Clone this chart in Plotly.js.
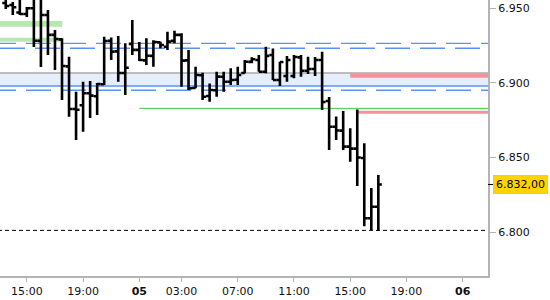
<!DOCTYPE html>
<html><head><meta charset="utf-8">
<script src="https://cdn.plot.ly/plotly-3.0.1.min.js"></script>
<style>html,body{margin:0;padding:0;background:#fff}#chart{width:550px;height:300px}</style>
</head><body><div id="chart"></div>
<script>
// 30-minute bars (day hh:mm)
const times = ["4 13:30","4 14:00","4 14:30","4 15:00","4 15:30","4 16:00","4 16:30","4 17:00","4 17:30","4 18:00",
"4 18:30","4 19:00","4 19:30","4 20:00","4 20:30","4 21:00","4 21:30","4 22:00","4 22:30",
"5 00:00","5 00:30","5 01:00","5 01:30","5 02:00","5 02:30","5 03:00","5 03:30","5 04:00","5 04:30",
"5 05:00","5 05:30","5 06:00","5 06:30","5 07:00","5 07:30","5 08:00","5 08:30","5 09:00","5 09:30",
"5 10:00","5 10:30","5 11:00","5 11:30","5 12:00","5 12:30","5 13:00","5 13:30","5 14:00","5 14:30",
"5 15:00","5 15:30","5 16:00","5 16:30","5 17:00"];
const futureSlots = ["5 17:30","5 18:00","5 18:30","5 19:00","5 19:30","5 20:00","5 20:30","5 21:00",
"5 21:30","5 22:00","5 22:30","6 00:00","6 00:30","6 01:00","6 01:30","6 02:00"];
const openV  = [6953.3,6952,6947,6946,6949.8,6928,6945.3,6932,6929,6911,6882.5,6885,6893,6891,6899,6928,6921,6906.5,6926,6922,
6915,6918,6927,6924.1,6928,6932,6915,6896.5,6905,6891.2,6895,6904,6900.7,6902,6906.5,6914,6915.2,6907.4,6918.6,6901.9,
6904.5,6904.5,6917,6908,6909.2,6915.2,6887.8,6870.6,6868,6857.3,6856,6849.7,6809.4,6817.1];
const highV  = [6955.5,6954,6955.5,6950.7,6958,6957,6948.7,6935.3,6929.7,6917.4,6894,6900.7,6901.2,6899.8,6930.8,6930.3,6931.3,6926.4,6942,6927.3,
6929.7,6928.4,6927.5,6934.2,6934.8,6933.1,6921.9,6910.7,6906.7,6899.6,6907.4,6907.4,6909.7,6910.7,6915.2,6917,6918.6,6924.1,6923,6914.1,
6917.9,6918.6,6918.6,6917.4,6917.2,6920.8,6890.5,6877.4,6881.1,6869.6,6882.1,6859.5,6829.6,6838.3];
const lowV   = [6949.3,6945.3,6945.3,6944,6923.9,6910.5,6918.6,6908.5,6888.5,6877.3,6861.7,6867.3,6876.4,6878.4,6898.5,6915.2,6900.7,6891.8,6918.6,6914.6,
6911.9,6910.7,6923.1,6921.9,6926.4,6897.4,6895.2,6896.3,6888.5,6887.3,6890.7,6894,6898.5,6898.5,6906.3,6913,6907.4,6906.3,6901.9,6897.8,
6900.7,6903,6904.1,6905.9,6904.5,6881.8,6855,6861.7,6855,6847.2,6831,6804,6801.5,6801];
const closeV = [6951.3,6950.5,6946,6949.8,6928.1,6945.3,6932,6929.3,6911.2,6882.5,6882,6893,6891.4,6899.2,6927.9,6920.8,6906.5,6910,6922,6915.2,
6918.1,6927.3,6925.3,6927.5,6932,6914.8,6896.3,6905.2,6890.7,6895.2,6904.1,6900.7,6901.9,6905.2,6914.1,6915.7,6907.4,6918,6901.9,6913.9,
6915.2,6917.2,6908,6909.2,6915.2,6887.1,6870.6,6868.1,6857.3,6856,6850,6809.4,6817.1,6832];
const tickSlots = ["4 15:00","4 19:00","5 00:00","5 03:00","5 07:00","5 11:00","5 15:00","5 19:00","6 00:00"];
const tickText  = ["15:00","19:00","<b>05</b>","03:00","07:00","11:00","15:00","19:00","<b>06</b>"];
const yTicks = [6800,6850,6900,6950];
const lastPrice = 6832;
// reference levels
const zoneTop = 6906.5, zoneBottom = 6897.8;
const blueDashA = [6926.4, 6895.0];
const blueDashB = [6923.1];
const greenLine = {from:"5 00:00", level:6882.9};
const greenZones = [[6941.3,6937.5],[6930.1,6927.5]];
const greenZoneEnd = "4 17:30";
const redZones = [{from:"5 15:00", top:6906.3, bottom:6903.4},{from:"5 15:30", top:6881.3, bottom:6879.3}];
const sessionLow = 6801.3;

const slots = times.concat(futureSlots);
const pos = t => slots.indexOf(t);
const xs = times.map(pos);
const XMIN = -0.82, XMAX = 68.6, XFAR = 75, XLEFT = -2.1;

const shapes = [];
shapes.push({type:'rect',xref:'x',yref:'y',x0:XLEFT,x1:XFAR,y0:zoneBottom,y1:zoneTop,fillcolor:'#e6edfc',line:{width:0},layer:'below'});
shapes.push({type:'line',xref:'x',yref:'y',x0:XLEFT,x1:XFAR,y0:zoneTop,y1:zoneTop,line:{color:'#a9a9a9',width:1.5},layer:'below'});
shapes.push({type:'line',xref:'x',yref:'y',x0:XLEFT,x1:XFAR,y0:zoneBottom,y1:zoneBottom,line:{color:'#5a93f5',width:1.5},layer:'below'});
blueDashA.forEach(v=>shapes.push({type:'line',xref:'x',yref:'y',x0:XLEFT,x1:XFAR,y0:v,y1:v,line:{color:'#5a93f5',width:1.3,dash:'25px,10px'},layer:'below'}));
blueDashB.forEach(v=>shapes.push({type:'line',xref:'x',yref:'y',x0:XMIN,x1:XFAR,y0:v,y1:v,line:{color:'#5a93f5',width:1.3,dash:'25px,10px'},layer:'below'}));
greenZones.forEach(z=>shapes.push({type:'rect',xref:'x',yref:'y',x0:XLEFT,x1:pos(greenZoneEnd)+0.05,y0:z[1],y1:z[0],fillcolor:'#b9e7b1',line:{width:0},layer:'below'}));
shapes.push({type:'line',xref:'x',yref:'y',x0:pos(greenLine.from),x1:XFAR,y0:greenLine.level,y1:greenLine.level,line:{color:'#3ec83e',width:1},layer:'below'});
redZones.forEach(z=>shapes.push({type:'rect',xref:'x',yref:'y',x0:pos(z.from),x1:XFAR,y0:z.bottom,y1:z.top,fillcolor:'#f4929a',line:{width:0},layer:'below'}));
shapes.push({type:'line',xref:'x',yref:'y',x0:XLEFT,x1:XFAR,y0:sessionLow,y1:sessionLow,line:{color:'#000',width:1,dash:'4px,3px'},layer:'below'});
shapes.push({type:'line',xref:'paper',yref:'y',x0:1,x1:1.012,y0:lastPrice,y1:lastPrice,line:{color:'#000',width:1}});

const trace = {
  type:'ohlc', x:xs, open:openV, high:highV, low:lowV, close:closeV,
  increasing:{line:{color:'#000',width:2.6}}, decreasing:{line:{color:'#000',width:2.6}},
  tickwidth:0.5, hoverinfo:'skip', showlegend:false
};
const fnt = {family:'DejaVu Sans, Verdana, sans-serif', size:11, color:'#111'};
const layout = {
  width:550, height:300, margin:{l:0,r:62,t:0,b:24},
  paper_bgcolor:'#fff', plot_bgcolor:'#fff', separators:',.',
  font:fnt, showlegend:false, hovermode:false,
  xaxis:{type:'linear', range:[XMIN,XMAX], tickmode:'array', tickvals:tickSlots.map(pos), ticktext:tickText,
    showgrid:false, zeroline:false, showline:true, linecolor:'#b4b4b4', linewidth:2,
    ticks:'outside', ticklen:4, tickcolor:'#b4b4b4', tickfont:fnt, rangeslider:{visible:false}, fixedrange:true},
  yaxis:{side:'right', range:[6770.8,6955.35], tickmode:'array', tickvals:yTicks, tickformat:',.0f',
    showgrid:false, zeroline:false, showline:true, linecolor:'#b4b4b4', linewidth:2,
    ticks:'outside', ticklen:6, tickcolor:'#b4b4b4', tickfont:fnt, fixedrange:true},
  shapes:shapes,
  annotations:[{xref:'paper',yref:'y',x:1,y:lastPrice,xanchor:'left',yanchor:'middle',xshift:5,
    text:'6.832,00', showarrow:false, bgcolor:'#ffd400', bordercolor:'#d9c77a', borderwidth:1, borderpad:2,
    font:{family:'DejaVu Sans, Verdana, sans-serif', size:11, color:'#000'}}]
};
Plotly.newPlot('chart',[trace],layout,{staticPlot:true,displayModeBar:false});
</script></body></html>
